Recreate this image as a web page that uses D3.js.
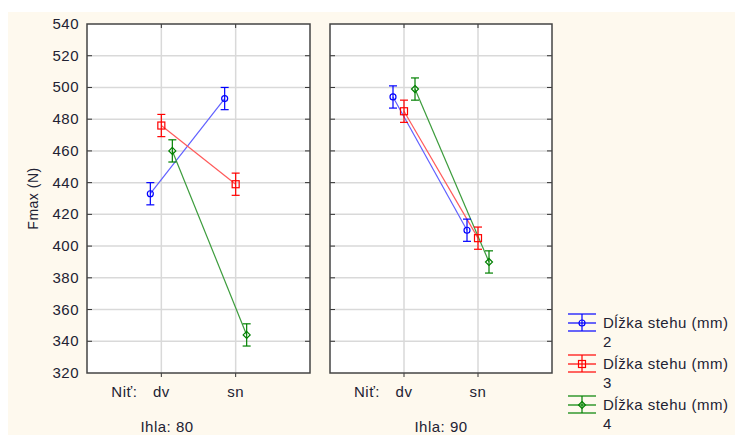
<!DOCTYPE html>
<html>
<head>
<meta charset="utf-8">
<script src="https://cdn.jsdelivr.net/npm/d3@7"></script>
<style>
  body { margin: 0; background: #ffffff; }
  text { font-family: "Liberation Sans", Arial, sans-serif; fill: #222233; letter-spacing: 0.5px; }
</style>
</head>
<body>
<div id="chart"></div>
<script>
// data
const needles = ['Ihla: 80', 'Ihla: 90'];
const threads = ['dv', 'sn'];
const lengths = ['2', '3', '4'];
// mean Fmax per stitch length, [dv, sn]
const fmax80 = [[433, 493], [476, 439], [460, 344]];
const fmax90 = [[494, 410], [485, 405], [499, 390]];
// half width of the error bars
const err80 = [[7, 7], [7, 7], [7, 7]];
const err90 = [[7, 7], [7, 7], [7, 7]];
const yTicks = [320, 340, 360, 380, 400, 420, 440, 460, 480, 500, 520, 540];

const width = 735;
const height = 435;
const markColors = ['#0000ff', '#ff0000', '#008000'];
const lineColors = ['#6060ff', '#ff5a5a', '#3c9c3c'];

const svg = d3.select('#chart')
    .append('svg')
    .attr('width', width)
    .attr('height', height);

//cream background
svg.append('rect')
    .attr('x', 8).attr('y', 12)
    .attr('width', width - 8).attr('height', height - 12)
    .attr('fill', '#fef9ee');

const plotTop = 24, plotBottom = 373;
const y = d3.scaleLinear().domain([320, 540]).range([plotBottom, plotTop]);
const panelX = [[87, 310], [330, 552]];
const offset = d3.scalePoint().domain(lengths).range([-11, 11]);

//y tick labels
svg.selectAll('.ylab')
    .data(yTicks)
    .enter()
    .append('text')
    .attr('x', 79)
    .attr('y', d => y(d) + 5)
    .attr('text-anchor', 'end')
    .attr('font-size', 15)
    .text(d => d);

svg.append('text')
    .attr('transform', `translate(38,${(plotTop + plotBottom) / 2}) rotate(-90)`)
    .attr('text-anchor', 'middle')
    .attr('font-size', 14)
    .text('Fmax (N)');

const labelX = [167, 441];

function drawMarker(g, i, cx, cy) {
    const c = markColors[i];
    if (i == 0) {
        g.append('circle').attr('cx', cx).attr('cy', cy).attr('r', 3)
            .attr('fill', 'none').attr('stroke', c).attr('stroke-width', 1.2);
    } else if (i == 1) {
        g.append('rect').attr('x', cx - 3.5).attr('y', cy - 3.5)
            .attr('width', 7).attr('height', 7)
            .attr('fill', 'none').attr('stroke', c).attr('stroke-width', 1.2);
    } else {
        g.append('path')
            .attr('d', `M${cx},${cy - 3.5}L${cx + 3.5},${cy}L${cx},${cy + 3.5}L${cx - 3.5},${cy}Z`)
            .attr('fill', 'none').attr('stroke', c).attr('stroke-width', 1.2);
    }
}

needles.forEach((needle, p) => {
    const [x0, x1] = panelX[p];
    const x = d3.scalePoint().domain(threads).range([x0, x1]).padding(1);
    const means = p == 0 ? fmax80 : fmax90;
    const errs = p == 0 ? err80 : err90;
    const g = svg.append('g');

    g.append('rect')
        .attr('x', x0).attr('y', plotTop)
        .attr('width', x1 - x0).attr('height', plotBottom - plotTop)
        .attr('fill', '#ffffff');

    //grid
    g.selectAll('.hgrid')
        .data(yTicks.slice(1, -1))
        .enter()
        .append('line')
        .attr('x1', x0).attr('x2', x1)
        .attr('y1', d => y(d)).attr('y2', d => y(d))
        .attr('stroke', '#d9d9d9')
        .attr('stroke-width', 1.5);
    g.selectAll('.vgrid')
        .data(threads)
        .enter()
        .append('line')
        .attr('x1', d => x(d)).attr('x2', d => x(d))
        .attr('y1', plotTop).attr('y2', plotBottom)
        .attr('stroke', '#d9d9d9')
        .attr('stroke-width', 1.5);

    //ticks on the frame
    yTicks.slice(1, -1).forEach(t => {
        g.append('line').attr('x1', x0).attr('x2', x0 + 5)
            .attr('y1', y(t)).attr('y2', y(t)).attr('stroke', '#333');
        g.append('line').attr('x1', x1 - 5).attr('x2', x1)
            .attr('y1', y(t)).attr('y2', y(t)).attr('stroke', '#333');
    });
    threads.forEach(t => {
        g.append('line').attr('x1', x(t)).attr('x2', x(t))
            .attr('y1', plotTop).attr('y2', plotTop + 4).attr('stroke', '#333');
        g.append('line').attr('x1', x(t)).attr('x2', x(t))
            .attr('y1', plotBottom).attr('y2', plotBottom + 4).attr('stroke', '#333');
    });

    g.append('rect')
        .attr('x', x0).attr('y', plotTop)
        .attr('width', x1 - x0).attr('height', plotBottom - plotTop)
        .attr('fill', 'none')
        .attr('stroke', '#444444')
        .attr('stroke-width', 1.5);

    //connecting lines
    lengths.forEach((len, i) => {
        g.append('path')
            .datum(threads)
            .attr('fill', 'none')
            .attr('stroke', lineColors[i])
            .attr('stroke-width', 1.2)
            .attr('d', d3.line()
                .x(t => x(t) + offset(len))
                .y((t, j) => y(means[i][j])));
    });

    //error bars and markers
    lengths.forEach((len, i) => {
        threads.forEach((t, j) => {
            const cx = x(t) + offset(len);
            const m = means[i][j], e = errs[i][j];
            const c = markColors[i];
            g.append('line').attr('x1', cx).attr('x2', cx)
                .attr('y1', y(m + e)).attr('y2', y(m - e))
                .attr('stroke', c).attr('stroke-width', 1.2);
            [m + e, m - e].forEach(v => {
                g.append('line').attr('x1', cx - 4).attr('x2', cx + 4)
                    .attr('y1', y(v)).attr('y2', y(v))
                    .attr('stroke', c).attr('stroke-width', 1.2);
            });
            drawMarker(g, i, cx, y(m));
        });
    });

    //category labels
    g.append('text')
        .attr('x', x('dv') - 24).attr('y', 397)
        .attr('text-anchor', 'end')
        .attr('font-size', 15)
        .text('Niť:');
    g.selectAll('.xlab')
        .data(threads)
        .enter()
        .append('text')
        .attr('x', d => x(d)).attr('y', 397)
        .attr('text-anchor', 'middle')
        .attr('font-size', 15)
        .text(d => d);
    g.append('text')
        .attr('x', labelX[p]).attr('y', 432)
        .attr('text-anchor', 'middle')
        .attr('font-size', 15)
        .text(needle);
});

//legend
const legend = svg.selectAll('.legend')
    .data(lengths)
    .enter()
    .append('g')
    .attr('transform', (d, i) => `translate(568,${314 + i * 41})`);
legend.each(function(d, i) {
    const lg = d3.select(this);
    const c = markColors[i];
    [0, 9, 17].forEach(dy => {
        lg.append('line').attr('x1', 0).attr('x2', 28)
            .attr('y1', dy).attr('y2', dy)
            .attr('stroke', c).attr('stroke-width', 1.2);
    });
    lg.append('line').attr('x1', 14).attr('x2', 14)
        .attr('y1', 0).attr('y2', 17)
        .attr('stroke', c).attr('stroke-width', 1.2);
    drawMarker(lg, i, 14, 9);
    lg.append('text').attr('x', 35).attr('y', 14)
        .attr('font-size', 15)
        .text('Dĺžka stehu (mm)');
    lg.append('text').attr('x', 35).attr('y', 33)
        .attr('font-size', 15)
        .text(d);
});
</script>
</body>
</html>
